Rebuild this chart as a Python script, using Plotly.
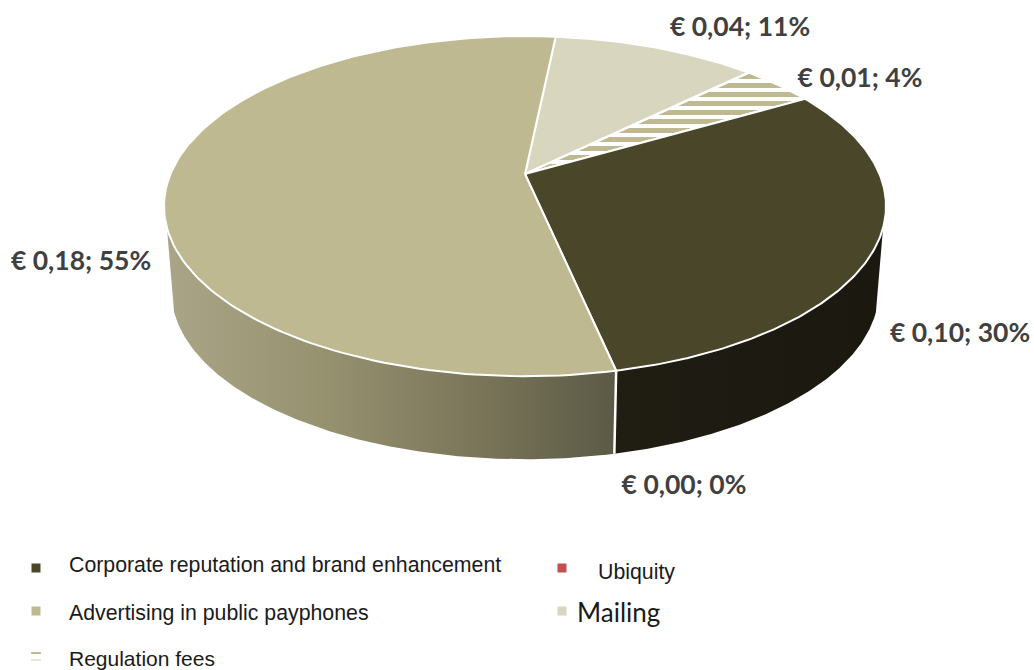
import numpy as np
import plotly.graph_objects as go

# Slices in drawing order, clockwise from the first angle
categories = ["Mailing", "Regulation fees", "Corporate reputation and brand enhancement",
              "Ubiquity", "Advertising in public payphones"]
euros = [0.04, 0.01, 0.10, 0.00, 0.18]
shares = [11, 4, 30, 0, 55]
colors = ["#D9D6C0", "#BFB991", "#4A4629", "#C0504D", "#BFB991"]

# Data label placement, by slice
label_x = [740, 860, 960, 684, 81]
label_y = [29, 80, 335, 487, 263]

# Legend layout
legend_x = [562, 36, 36, 562, 36]
legend_y = [611, 656, 568, 568, 611]
legend_text_x = [575, 67, 67, 596, 67]
legend_text_y = [612, 658, 565, 572, 613]
legend_font = ["Lato", "Liberation Sans", "Liberation Sans", "Liberation Sans", "Liberation Sans"]
legend_size = [26, 21, 21.3, 21.3, 21.3]

START_DEG = 5.9
CX, CY = 525.0, 174.0
A, B, K = 354.5, 164.0, 0.189   # perspective of the pie's top face
DEPTH = 85.0
BOTTOM_SX, BOTTOM_SY = 0.98, 0.99
SIDE_LEFT, SIDE_RIGHT = 252.0, 108.0


def project(deg, sx=1.0, sy=1.0, dy=0.0):
    t = np.radians(deg)
    u, v = np.sin(t), -np.cos(t)
    d = 1 - K * v
    return CX + sx * A * u / d, CY + dy + sy * B * v / d


def rim(d0, d1, bottom=False, n=160):
    deg = np.linspace(d0, d1, n)
    return project(deg, BOTTOM_SX, BOTTOM_SY, DEPTH) if bottom else project(deg)


edges = START_DEG + np.concatenate([[0], np.cumsum(shares)]) * 3.6
front = edges[3]  # boundary between the right and left side walls

fig = go.Figure()


def wall(d0, d1, **style):
    tx, ty = rim(d0, d1)
    bx, by = rim(d1, d0, bottom=True)
    fig.add_trace(go.Scatter(x=np.r_[tx, bx], y=np.r_[ty, by], mode="lines", fill="toself",
                             line=dict(width=0), hoverinfo="skip", showlegend=False, **style))


wall(SIDE_RIGHT, front, fillcolor="#1C1A10",
     fillgradient=dict(type="horizontal",
                       colorscale=[[0, "#201E13"], [0.5, "#1D1B11"], [1, "#1A180F"]]))
wall(front, SIDE_LEFT, fillgradient=dict(type="horizontal",
                                         colorscale=[[0, "#AAA587"], [0.35, "#96916F"],
                                                     [0.7, "#7A7559"], [1, "#5B5A46"]]))

# White seam down the front of the wall
sx0, sy0 = project(front)
sx1, sy1 = project(front, BOTTOM_SX, BOTTOM_SY, DEPTH)
fig.add_trace(go.Scatter(x=[sx0, sx1], y=[sy0, sy1], mode="lines", line=dict(color="white", width=2.5),
                         hoverinfo="skip", showlegend=False))

# Top face
for name, share, color, d0, d1 in zip(categories, shares, colors, edges[:-1], edges[1:]):
    if share == 0:
        continue
    ax, ay = rim(d0, d1)
    style = dict(fillcolor=color)
    if name == "Regulation fees":
        style = dict(fillcolor="white",
                     fillpattern=dict(shape="-", fgcolor=color, fgopacity=1, bgcolor="white",
                                      size=9, solidity=0.55))
    fig.add_trace(go.Scatter(x=np.r_[CX, ax, CX], y=np.r_[CY, ay, CY], mode="lines", fill="toself",
                             line=dict(color="white", width=2), name=name,
                             hoverinfo="skip", showlegend=False, **style))

# Data labels
labels = [f"€ {e:.2f}".replace(".", ",") + f"; {s}%" for e, s in zip(euros, shares)]
fig.add_trace(go.Scatter(x=label_x, y=label_y, text=labels, mode="text", textposition="middle center",
                         textfont=dict(family="Lato", size=26.5, color="#404040", weight="bold"),
                         hoverinfo="skip", showlegend=False))

# Legend swatches
for name, color, lx, ly in zip(categories, colors, legend_x, legend_y):
    if name == "Regulation fees":
        fig.add_trace(go.Scatter(x=[lx, lx], y=[ly - 3, ly + 4], mode="markers",
                                 marker=dict(symbol="line-ew", size=7,
                                             line=dict(color=[color, "#E6E4D6"], width=2)),
                                 hoverinfo="skip", showlegend=False))
    else:
        fig.add_trace(go.Scatter(x=[lx], y=[ly], mode="markers",
                                 marker=dict(symbol="square", size=9, color=color),
                                 hoverinfo="skip", showlegend=False))

# Legend text
for name, tx, ty, fam, size in zip(categories, legend_text_x, legend_text_y, legend_font, legend_size):
    fig.add_annotation(x=tx, y=ty, text=name, xanchor="left", yanchor="middle", showarrow=False,
                       xref="x", yref="y", font=dict(family=fam, size=size, color="#1A1A1A"))

fig.update_layout(width=1034, height=670, margin=dict(l=0, r=0, t=0, b=0),
                  paper_bgcolor="white", plot_bgcolor="white", showlegend=False,
                  xaxis=dict(range=[0, 1034], visible=False, fixedrange=True),
                  yaxis=dict(range=[670, 0], visible=False, fixedrange=True))
fig.write_html("out.html", config=dict(displayModeBar=False))
